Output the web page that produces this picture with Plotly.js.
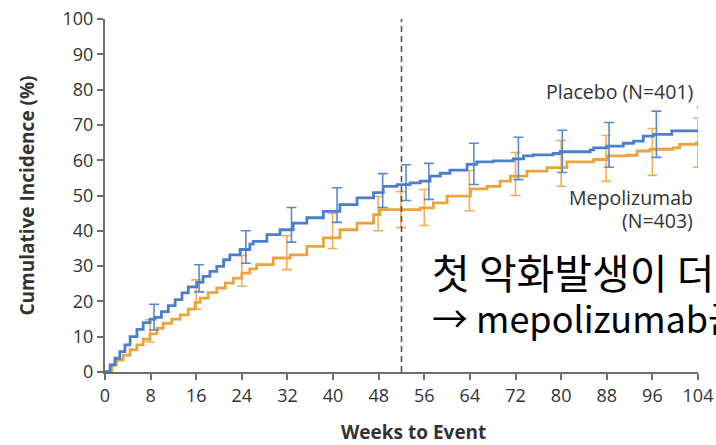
<!DOCTYPE html>
<html>
<head>
<meta charset="utf-8">
<script src="https://cdn.plot.ly/plotly-3.0.1.min.js"></script>
<style>html,body{margin:0;padding:0;background:#fff;overflow:hidden}#chart{width:716px;height:445px}</style>
</head>
<body>
<div id="chart"></div>
<script>
// Kaplan-Meier style cumulative incidence (weeks, %)
const placeboWeeks = [0, 0.3, 0.9, 1.75, 2.6, 3.5, 4.4, 5.6, 6.7, 7.9, 8.8, 9.9, 11.1, 12.3, 13.5, 14.6, 16.1, 17.2, 18.4, 19.6, 20.8, 21.9, 23.7, 25.4, 26.0, 28.4, 30.7, 33.0, 35.4, 38.3, 41.2, 44.2, 47.1, 48.8, 51.2, 53.5, 55.3, 57.0, 58.8, 60.5, 63.5, 65.2, 68.1, 71.6, 73.4, 75.1, 78.6, 79.8, 85.1, 85.7, 88.0, 90.9, 92.7, 94.4, 96.2, 99.4, 104.4];
const placeboPct   = [0, 0.1, 2.0, 3.9, 5.8, 7.7, 10.0, 12.1, 14.0, 15.0, 15.5, 17.1, 18.8, 20.5, 22.4, 24.1, 25.4, 27.1, 28.5, 29.9, 31.8, 33.2, 34.7, 36.2, 37.0, 38.9, 40.3, 42.2, 43.7, 45.5, 47.4, 49.3, 50.8, 52.6, 53.1, 53.6, 54.1, 55.5, 56.3, 57.2, 58.8, 59.5, 59.8, 60.4, 61.2, 61.5, 61.9, 62.4, 62.9, 63.5, 64.0, 64.8, 65.4, 66.8, 67.3, 68.3, 68.3];

const mepoWeeks = [0, 0.3, 1.2, 2.0, 3.2, 4.4, 5.6, 6.7, 7.9, 9.1, 10.2, 11.7, 13.2, 14.6, 15.8, 16.7, 18.1, 19.6, 21.1, 22.5, 24.0, 25.4, 26.6, 29.5, 32.5, 35.4, 38.3, 41.2, 44.2, 47.1, 48.2, 55.3, 57.6, 60.0, 64.1, 67.0, 69.3, 71.1, 74.0, 77.5, 81.0, 85.7, 88.0, 91.5, 93.3, 95.6, 99.6, 100.8, 103.7, 104.0];
const mepoPct   = [0, 0.1, 2.0, 3.4, 4.8, 6.3, 7.7, 9.3, 10.8, 12.4, 13.8, 15.0, 16.2, 17.8, 19.7, 20.9, 22.5, 23.8, 25.2, 26.6, 28.0, 29.2, 30.4, 32.3, 33.2, 35.6, 38.0, 40.3, 42.2, 44.6, 46.0, 46.5, 47.9, 49.8, 51.9, 52.6, 54.1, 55.5, 56.9, 57.9, 59.5, 60.2, 61.2, 61.4, 62.6, 63.1, 63.5, 64.5, 64.9, 64.9];

// 95% CI bars
const placeboCiWeeks = [8.6, 16.5, 24.7, 32.7, 40.7, 48.7, 52.8, 56.8, 64.7, 72.5, 80.2, 88.4, 96.7, 104.7];
const placeboCiMid   = [15.6, 26.0, 35.5, 41.8, 47.2, 51.5, 53.5, 54.5, 59.0, 60.5, 62.4, 64.2, 67.3, 68.3];
const placeboCiLow   = [11.9, 22.7, 30.8, 36.8, 42.4, 46.6, 48.6, 48.9, 53.1, 54.5, 56.5, 58.0, 60.8, 61.4];
const placeboCiHigh  = [19.2, 30.4, 40.0, 46.6, 52.2, 56.2, 58.7, 59.1, 64.8, 66.5, 68.5, 70.7, 73.9, 75.0];

const mepoCiWeeks = [7.9, 16.0, 24.0, 31.9, 39.9, 47.9, 51.9, 56.0, 63.9, 72.0, 80.0, 87.9, 96.0, 104.0];
const mepoCiMid   = [11.3, 21.8, 28.6, 33.5, 40.0, 45.0, 46.0, 46.6, 51.4, 56.0, 59.0, 60.5, 62.4, 64.9];
const mepoCiLow   = [8.5, 17.8, 24.3, 29.0, 35.0, 40.0, 40.9, 41.5, 45.7, 50.0, 52.6, 54.0, 55.7, 58.0];
const mepoCiHigh  = [14.8, 26.1, 33.0, 38.6, 44.9, 49.7, 51.1, 51.7, 57.1, 62.2, 65.6, 67.0, 69.0, 71.9];

const xTicks = [0, 8, 16, 24, 32, 40, 48, 56, 64, 72, 80, 88, 96, 104];
const yTicks = [0, 10, 20, 30, 40, 50, 60, 70, 80, 90, 100];
const cutoffWeek = 52;

const BLUE = '#4c7fcb';
const ORANGE = '#eba43c';
const TEXT = '#333333';

function diff(a, b) { return a.map((v, i) => v - b[i]); }

const traces = [
  {
    x: mepoCiWeeks, y: mepoCiMid, type: 'scatter', mode: 'markers',
    marker: {size: 0.1, color: 'rgba(0,0,0,0)'}, showlegend: false, hoverinfo: 'skip', cliponaxis: false,
    error_y: {type: 'data', symmetric: false, array: diff(mepoCiHigh, mepoCiMid), arrayminus: diff(mepoCiMid, mepoCiLow),
              color: '#efb055', thickness: 1.6, width: 5}
  },
  {
    x: mepoWeeks, y: mepoPct, type: 'scatter', mode: 'lines', line: {color: ORANGE, width: 2.8, shape: 'hv'},
    showlegend: false, cliponaxis: false
  },
  {
    x: placeboCiWeeks, y: placeboCiMid, type: 'scatter', mode: 'markers',
    marker: {size: 0.1, color: 'rgba(0,0,0,0)'}, showlegend: false, hoverinfo: 'skip', cliponaxis: false,
    error_y: {type: 'data', symmetric: false, array: diff(placeboCiHigh, placeboCiMid), arrayminus: diff(placeboCiMid, placeboCiLow),
              color: '#5a89d0', thickness: 1.6, width: 5}
  },
  {
    x: placeboWeeks, y: placeboPct, type: 'scatter', mode: 'lines', line: {color: BLUE, width: 2.8, shape: 'hv'},
    showlegend: false, cliponaxis: false
  }
];

const tickFont = {family: 'Open Sans, sans-serif', size: 18, color: TEXT};
const labelFont = {family: 'Open Sans, sans-serif', size: 19.5, color: TEXT};
const titleFont = {family: 'Open Sans, sans-serif', size: 19, color: TEXT, weight: 'bold'};
const koFont1 = {family: 'Noto Sans CJK KR, sans-serif', size: 41, color: '#000'};
const koFont2 = {family: 'Noto Sans CJK KR, sans-serif', size: 36, color: '#000'};

const layout = {
  width: 716, height: 445,
  margin: {l: 105, r: 18, t: 19, b: 73, pad: 0},
  paper_bgcolor: '#fff', plot_bgcolor: '#fff',
  showlegend: false,
  xaxis: {
    range: [0, 104], tickvals: xTicks, ticktext: xTicks.map(String),
    showgrid: false, zeroline: false, showline: true, linecolor: '#6e6e6e', linewidth: 2,
    ticks: 'outside', ticklen: 6, tickwidth: 2, tickcolor: '#6e6e6e', tickfont: tickFont, fixedrange: true
  },
  yaxis: {
    range: [0, 100], tickvals: yTicks, ticktext: yTicks.map(String),
    showgrid: false, zeroline: false, showline: true, linecolor: '#6e6e6e', linewidth: 2,
    ticks: 'outside', ticklen: 6, tickwidth: 2, tickcolor: '#6e6e6e', tickfont: tickFont, fixedrange: true
  },
  shapes: [
    {type: 'line', xref: 'x', yref: 'y', x0: cutoffWeek, x1: cutoffWeek, y0: 0, y1: 100,
     line: {color: '#555', width: 1.6, dash: '6px,4px'}}
  ],
  annotations: [
    {xref: 'paper', yref: 'paper', x: 0, y: 0.5, xshift: -79, text: 'Cumulative Incidence (%)', textangle: -90,
     showarrow: false, xanchor: 'center', yanchor: 'middle', font: titleFont},
    {xref: 'paper', yref: 'paper', x: 0.5, y: 0, xshift: 12, yshift: -60, text: 'Weeks to Event',
     showarrow: false, xanchor: 'center', yanchor: 'middle', font: titleFont},
    {xref: 'x', yref: 'y', x: 103.5, y: 79.5, text: 'Placebo (N=401)', showarrow: false, xanchor: 'right', yanchor: 'middle', font: labelFont},
    {xref: 'x', yref: 'y', x: 103.5, y: 49.4, text: 'Mepolizumab', showarrow: false, xanchor: 'right', yanchor: 'middle', font: labelFont},
    {xref: 'x', yref: 'y', x: 103.5, y: 42.9, text: '(N=403)', showarrow: false, xanchor: 'right', yanchor: 'middle', font: labelFont},
    {xref: 'x', yref: 'y', x: 57.0, y: 28.7, text: '첫 악화발생이 더 늦게 나타남', showarrow: false, xanchor: 'left', yanchor: 'middle', font: koFont1},
    {xref: 'x', yref: 'y', x: 57.0, y: 15.6, text: '→ mepolizumab군에서 효과', showarrow: false, xanchor: 'left', yanchor: 'middle', font: koFont2}
  ]
};

Plotly.newPlot('chart', traces, layout, {displayModeBar: false, staticPlot: true});
</script>
</body>
</html>
